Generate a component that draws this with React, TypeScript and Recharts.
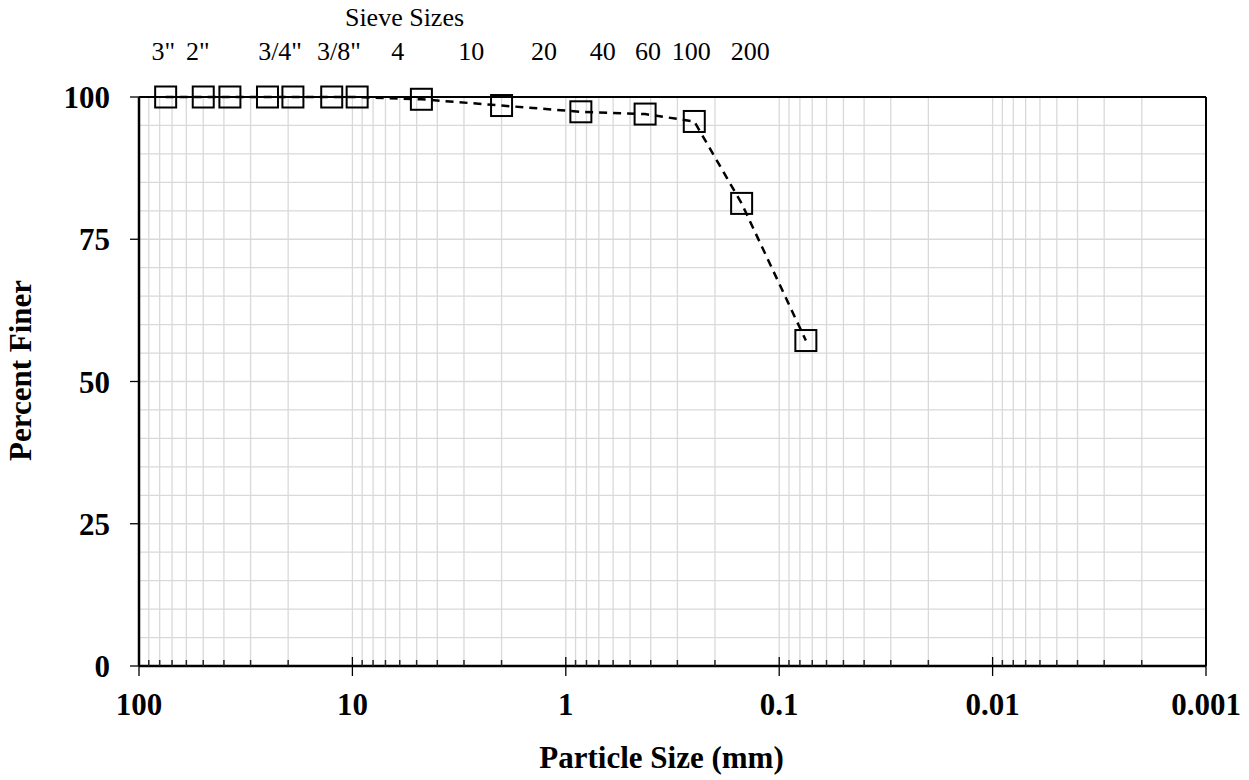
import React from "react";
import { LineChart, Line, XAxis, YAxis, CartesianGrid, ReferenceLine } from "recharts";

// sieve test results
const grainSizes = [75, 50, 37.5, 25, 19, 12.5, 9.5, 4.75, 2.0, 0.85, 0.425, 0.25, 0.15, 0.075];
const percentFiner = [100, 100, 100, 100, 100, 100, 100, 99.6, 98.5, 97.4, 97.0, 95.7, 81.3, 57.2];

// sieve labels along the top
const sieveLabels = ['3"', '2"', '3/4"', '3/8"', "4", "10", "20", "40", "60", "100", "200"];
const sieveOpenings = [75, 50, 19, 9.5, 4.75, 2.0, 0.85, 0.425, 0.25, 0.15, 0.075];

const decadeTicks = [100, 10, 1, 0.1, 0.01, 0.001];
const yTicks = [0, 25, 50, 75, 100];
const yGridTicks = [0, 5, 10, 15, 20, 25, 30, 35, 40, 45, 50, 55, 60, 65, 70, 75, 80, 85, 90, 95, 100];

// log minor ticks 2..9 inside each decade
const minorTicks: number[] = [];
decadeTicks.slice(1).forEach((d) => {
  for (let k = 2; k <= 9; k++) minorTicks.push(d * k);
});
const xTicks = [...decadeTicks, ...minorTicks];

const data = grainSizes.map((s, i) => ({ size: s, finer: percentFiner[i] }));

const FONT = "'Liberation Serif', 'Times New Roman', serif";

const BottomTick = (props: any) => {
  const { x, y, payload } = props;
  const v = payload.value;
  if (!decadeTicks.includes(v)) {
    return <line x1={x} x2={x} y1={y} y2={y - 6} stroke="#262626" strokeWidth={1.5} />;
  }
  return (
    <g>
      <line x1={x} x2={x} y1={y - 9} y2={y + 10} stroke="#000" strokeWidth={1.3} />
      <text
        x={x}
        y={y + 49}
        textAnchor="middle"
        fontFamily={FONT}
        fontWeight="bold"
        fontSize={31}
        fill="#000"
      >
        {String(v)}
      </text>
    </g>
  );
};

const TopTick = (props: any) => {
  const { x, y, payload } = props;
  const idx = sieveOpenings.indexOf(payload.value);
  return (
    <text x={x} y={y} textAnchor="middle" fontFamily={FONT} fontSize={26} fill="#000">
      {sieveLabels[idx]}
    </text>
  );
};

const SquareDot = (props: any) => {
  const { cx, cy, index } = props;
  if (cx == null || cy == null) return null;
  return (
    <rect
      key={`sq-${index}`}
      x={cx - 10.5}
      y={cy - 10.5}
      width={21}
      height={21}
      fill="none"
      stroke="#000"
      strokeWidth={2}
    />
  );
};

const App = () => {
  return (
    <div style={{ position: "absolute", left: 0, top: 0, background: "#fff" }}>
      <LineChart
        width={1249}
        height={780}
        data={data}
        margin={{ top: 0, right: 43, bottom: 0, left: 0 }}
      >
        <CartesianGrid xAxisId="bottom" yAxisId="grid" stroke="#d9d9d9" strokeWidth={1.3} />
        <XAxis
          xAxisId="bottom"
          dataKey="size"
          type="number"
          scale="log"
          domain={[0.001, 100]}
          reversed
          ticks={xTicks}
          interval={0}
          height={114}
          tickSize={0}
          tickMargin={0}
          tickLine={false}
          axisLine={{ stroke: "#000", strokeWidth: 2.5 }}
          tick={<BottomTick />}
          label={{
            value: "Particle Size (mm)",
            position: "insideBottom",
            offset: 12,
            dx: -11,
            fill: "#000",
            fontFamily: FONT,
            fontWeight: "bold",
            fontSize: 31,
          }}
        />
        <XAxis
          xAxisId="top"
          orientation="top"
          dataKey="size"
          type="number"
          scale="log"
          domain={[0.00035, 100]}
          allowDataOverflow
          reversed
          ticks={sieveOpenings}
          interval={0}
          height={97}
          tickSize={0}
          tickMargin={37}
          tickLine={false}
          axisLine={{ stroke: "#000", strokeWidth: 2 }}
          tick={<TopTick />}
          label={{
            value: "Sieve Sizes",
            position: "insideTop",
            offset: 8,
            dx: -268,
            fill: "#000",
            fontFamily: FONT,
            fontSize: 26,
          }}
        />
        <YAxis
          yAxisId="main"
          type="number"
          domain={[0, 100]}
          ticks={yTicks}
          interval={0}
          width={139}
          tickSize={9}
          tickMargin={20}
          tickLine={{ stroke: "#000", strokeWidth: 1.3 }}
          axisLine={{ stroke: "#000", strokeWidth: 2.5 }}
          tick={{ fill: "#000", fontFamily: FONT, fontWeight: "bold", fontSize: 31 }}
          label={{
            value: "Percent Finer",
            angle: -90,
            position: "insideLeft",
            offset: 20,
            dy: -11,
            fill: "#000",
            fontFamily: FONT,
            fontWeight: "bold",
            fontSize: 31,
            style: { textAnchor: "middle" },
          }}
        />
        <YAxis
          yAxisId="grid"
          orientation="right"
          type="number"
          domain={[0, 100]}
          allowDataOverflow
          ticks={yGridTicks}
          interval={0}
          width={0}
          axisLine={false}
          tickLine={false}
          tick={() => <g />}
        />
        <ReferenceLine xAxisId="bottom" yAxisId="main" x={0.001} stroke="#000" strokeWidth={2} />
        {/* invisible series so the sieve axis and the 5% grid axis get their ticks */}
        <Line
          xAxisId="top"
          yAxisId="grid"
          dataKey="finer"
          stroke="none"
          dot={false}
          activeDot={false}
          isAnimationActive={false}
        />
        <Line
          xAxisId="bottom"
          yAxisId="main"
          dataKey="finer"
          type="linear"
          stroke="#000"
          strokeWidth={2.5}
          strokeDasharray="8 6"
          dot={<SquareDot />}
          activeDot={false}
          isAnimationActive={false}
        />
      </LineChart>
    </div>
  );
};

export default App;
